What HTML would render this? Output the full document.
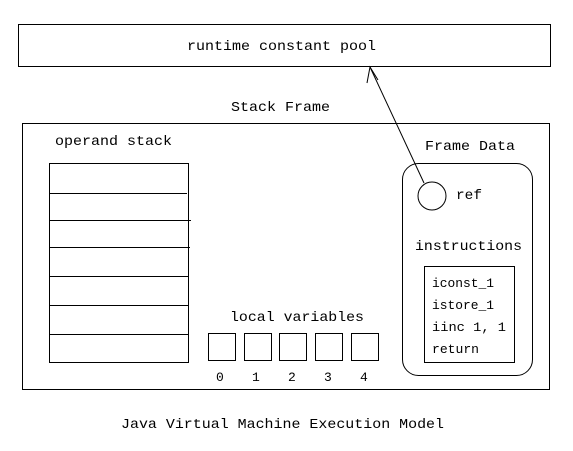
<!DOCTYPE html>
<html><head><meta charset="utf-8"><style>body{margin:0;background:#fff}svg{display:block}</style></head><body>
<svg width="573" height="451" xmlns="http://www.w3.org/2000/svg" font-family="Liberation Mono, monospace" fill="#000">
<rect width="573" height="451" fill="#fff"/>
<g fill="none" stroke="#000" stroke-width="1">
<rect x="18.5" y="24.5" width="532" height="42"/>
<rect x="22.5" y="123.5" width="527" height="266"/>
<rect x="49.5" y="163.5" width="139" height="199"/>
<line x1="49.5" y1="193.5" x2="187" y2="193.5"/>
<line x1="49.5" y1="220.5" x2="191" y2="220.5"/>
<line x1="49.5" y1="247.5" x2="190" y2="247.5"/>
<line x1="49.5" y1="276.5" x2="188" y2="276.5"/>
<line x1="49.5" y1="305.5" x2="188" y2="305.5"/>
<line x1="49.5" y1="334.5" x2="188" y2="334.5"/>
<rect x="208.5" y="333.5" width="27" height="27"/>
<rect x="244.5" y="333.5" width="27" height="27"/>
<rect x="279.5" y="333.5" width="27" height="27"/>
<rect x="315.5" y="333.5" width="27" height="27"/>
<rect x="351.5" y="333.5" width="27" height="27"/>
<rect x="402.5" y="163.5" width="130" height="212" rx="16"/>
<circle cx="432" cy="196" r="14"/>
<rect x="424.5" y="266.5" width="90" height="96"/>
<line x1="424" y1="183" x2="370" y2="67"/>
<polyline points="367,83 370,67 378,80"/>
</g>
<g font-size="14">
<text x="187" y="50" textLength="189" lengthAdjust="spacingAndGlyphs">runtime constant pool</text>
<text x="231" y="111" textLength="99" lengthAdjust="spacingAndGlyphs">Stack Frame</text>
<text x="55" y="145" textLength="117" lengthAdjust="spacingAndGlyphs">operand stack</text>
<text x="425" y="150" textLength="90" lengthAdjust="spacingAndGlyphs">Frame Data</text>
<text x="456" y="199" textLength="26" lengthAdjust="spacingAndGlyphs">ref</text>
<text x="415" y="250" textLength="107" lengthAdjust="spacingAndGlyphs">instructions</text>
<text x="230" y="321" textLength="134" lengthAdjust="spacingAndGlyphs">local variables</text>
<text x="121" y="428" textLength="323" lengthAdjust="spacingAndGlyphs">Java Virtual Machine Execution Model</text>
</g>
<g font-size="13">
<text x="432" y="287" textLength="62" lengthAdjust="spacingAndGlyphs">iconst_1</text>
<text x="432" y="309" textLength="62" lengthAdjust="spacingAndGlyphs">istore_1</text>
<text x="432" y="331" textLength="74" lengthAdjust="spacingAndGlyphs">iinc 1, 1</text>
<text x="432" y="353" textLength="47" lengthAdjust="spacingAndGlyphs">return</text>
<text x="216" y="381">0</text>
<text x="252" y="381">1</text>
<text x="288" y="381">2</text>
<text x="324" y="381">3</text>
<text x="360" y="381">4</text>
</g>
</svg>
</body></html>
